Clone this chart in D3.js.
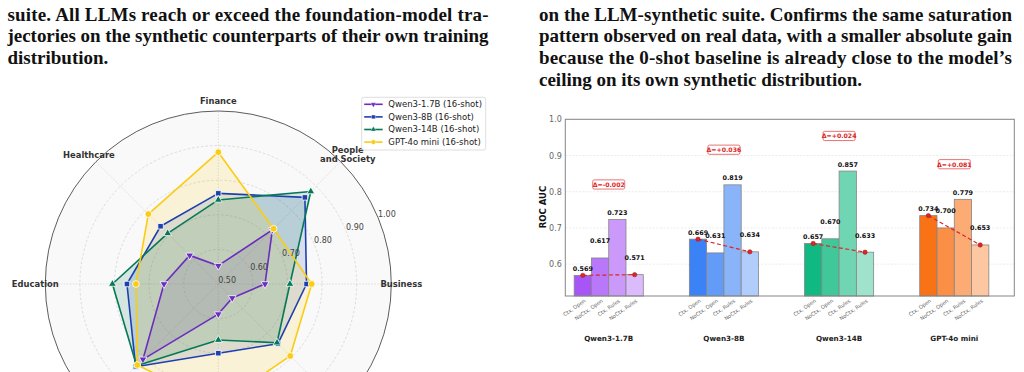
<!DOCTYPE html>
<html>
<head>
<meta charset="utf-8">
<script src="https://cdn.jsdelivr.net/npm/d3@7"></script>
<style>
  html, body { margin: 0; padding: 0; background: #fff; }
  svg { display: block; }
</style>
</head>
<body>
<svg id="fig" width="1024" height="372"></svg>
<script>
// ---- caption text ----
const leftCaption = [
  "suite. All LLMs reach or exceed the foundation-model tra-",
  "jectories on the synthetic counterparts of their own training",
  "distribution."
];
const rightCaption = [
  "on the LLM-synthetic suite. Confirms the same saturation",
  "pattern observed on real data, with a smaller absolute gain",
  "because the 0-shot baseline is already close to the model\u2019s",
  "ceiling on its own synthetic distribution."
];

// ---- radar data (clockwise from top; three lower labels fall below the crop) ----
const radarAxes = ["Finance", "People\nand Society", "Business", "", "", "", "Education", "Healthcare"];
const radarTicks = [0.5, 0.6, 0.7, 0.8, 0.9, 1.0];
const radarNames = ["Qwen3-1.7B (16-shot)", "Qwen3-8B (16-shot)", "Qwen3-14B (16-shot)", "GPT-4o mini (16-shot)"];
const qwen17Radar = [0.553, 0.721, 0.635, 0.557, 0.587, 0.808, 0.657, 0.617];
const qwen8Radar  = [0.762, 0.854, 0.755, 0.744, 0.700, 0.838, 0.764, 0.736];
const qwen14Radar = [0.743, 0.878, 0.707, 0.740, 0.662, 0.834, 0.806, 0.707];
const gptRadar    = [0.881, 0.726, 0.770, 0.794, 0.850, 0.831, 0.738, 0.786];

// ---- bar data ----
const barModels = ["Qwen3-1.7B", "Qwen3-8B", "Qwen3-14B", "GPT-4o mini"];
const barConditions = ["Ctx, Open", "NoCtx, Open", "Ctx, Rules", "NoCtx, Rules"];
const qwen17Bars = [0.569, 0.617, 0.723, 0.571];
const qwen8Bars  = [0.669, 0.631, 0.819, 0.634];
const qwen14Bars = [0.657, 0.670, 0.857, 0.633];
const gptBars    = [0.734, 0.700, 0.779, 0.653];
const deltaLabels = ["\u0394=-0.002", "\u0394=+0.036", "\u0394=+0.024", "\u0394=+0.081"];
const barTicks = [0.6, 0.7, 0.8, 0.9, 1.0];

const svg = d3.select("#fig");
svg.append("rect").attr("width", 1024).attr("height", 372).attr("fill", "#fff");

// ================= captions =================
function caption(lines, x0, width) {
  const g = svg.append("g")
    .attr("font-family", "'Liberation Serif', 'DejaVu Serif', serif")
    .attr("font-weight", "bold")
    .attr("font-size", 19)
    .attr("fill", "#111");
  lines.forEach((t, i) => {
    const txt = g.append("text")
      .attr("x", x0)
      .attr("y", 20.7 + i * 21.7)
      .text(t);
    if (i < lines.length - 1) {
      txt.attr("textLength", width).attr("lengthAdjust", "spacing");
    }
  });
}
caption(leftCaption, 7.5, 481);
caption(rightCaption, 539, 473);

// ================= radar =================
const cx = 218.3, cy = 284, R = 173;
const rScale = d3.scaleLinear().domain([0.5, 1.0]).range([0, R]);
const angle = i => i * Math.PI / 4;  // 0 = top, clockwise
const radar = svg.append("g").attr("transform", `translate(${cx},${cy})`);

radar.append("circle").attr("r", R).attr("fill", "#f9f9f9");

// rings
radar.selectAll("circle.ring")
  .data(radarTicks.slice(1, -1))
  .join("circle")
  .attr("class", "ring")
  .attr("r", d => rScale(d))
  .attr("fill", "none")
  .attr("stroke", "#cfcfcf")
  .attr("stroke-width", 0.7)
  .attr("stroke-dasharray", "2.5,2");

// spokes
radar.selectAll("line.spoke")
  .data(radarAxes)
  .join("line")
  .attr("class", "spoke")
  .attr("x1", 0).attr("y1", 0)
  .attr("x2", (d, i) => R * Math.sin(angle(i)))
  .attr("y2", (d, i) => -R * Math.cos(angle(i)))
  .attr("stroke", "#d0d0d0")
  .attr("stroke-width", 0.7)
  .attr("stroke-dasharray", "1.5,1.5");

const series = [
  { name: radarNames[0], values: qwen17Radar, color: "#6a2dbd", shape: "down" },
  { name: radarNames[1], values: qwen8Radar, color: "#1e40af", shape: "square" },
  { name: radarNames[2], values: qwen14Radar, color: "#047857", shape: "up" },
  { name: radarNames[3], values: gptRadar, color: "#facc15", shape: "circle" }
];

function markerPath(shape) {
  if (shape === "square") return d3.symbol(d3.symbolSquare, 30)();
  if (shape === "circle") return d3.symbol(d3.symbolCircle, 36)();
  return d3.symbol(d3.symbolTriangle, 27)();
}
function markerRot(shape) { return shape === "down" ? 180 : 0; }

const radialLine = d3.lineRadial()
  .angle((d, i) => angle(i))
  .radius(d => rScale(d))
  .curve(d3.curveLinearClosed);

series.forEach(s => {
  radar.append("path")
    .attr("d", radialLine(s.values))
    .attr("fill", s.color)
    .attr("fill-opacity", 0.15)
    .attr("stroke", "none");
});
series.forEach(s => {
  radar.append("path")
    .attr("d", radialLine(s.values))
    .attr("fill", "none")
    .attr("stroke", s.color)
    .attr("stroke-width", 1.6)
    .attr("stroke-linejoin", "round");
  radar.selectAll(null)
    .data(s.values)
    .join("path")
    .attr("d", markerPath(s.shape))
    .attr("transform", (d, i) => {
      const r = rScale(d);
      return `translate(${r * Math.sin(angle(i))},${-r * Math.cos(angle(i))}) rotate(${markerRot(s.shape)})`;
    })
    .attr("fill", s.color)
    .attr("stroke", "#fff")
    .attr("stroke-width", 0.8);
});

// outer spine
radar.append("circle").attr("r", R).attr("fill", "none").attr("stroke", "#333").attr("stroke-width", 0.8);

// radial tick labels
const labAng = 67.5 * Math.PI / 180;
radar.selectAll("text.rtick")
  .data(radarTicks)
  .join("text")
  .attr("class", "rtick")
  .attr("x", d => (rScale(d) + 9.5) * Math.sin(labAng))
  .attr("y", d => -(rScale(d) + 9.5) * Math.cos(labAng))
  .attr("text-anchor", "middle")
  .attr("dominant-baseline", "central")
  .attr("font-family", "'DejaVu Sans', sans-serif")
  .attr("font-size", 8)
  .attr("fill", "#444")
  .text(d => d.toFixed(2));

// category labels
radarAxes.forEach((name, i) => {
  if (!name) return;
  const r = 183;
  const lx = r * Math.sin(angle(i)), ly = -r * Math.cos(angle(i));
  const lines = name.split("\n");
  const t = radar.append("text")
    .attr("text-anchor", "middle")
    .attr("font-family", "'DejaVu Sans', sans-serif")
    .attr("font-weight", "bold")
    .attr("font-size", 8.4)
    .attr("fill", "#333");
  lines.forEach((ln, k) => {
    t.append("tspan")
      .attr("x", lx)
      .attr("y", ly + (k - (lines.length - 1) / 2) * 9.6)
      .attr("dominant-baseline", "central")
      .text(ln);
  });
});

// legend
const leg = svg.append("g").attr("transform", "translate(361.7,97.3)");
leg.append("rect")
  .attr("width", 124).attr("height", 52.7)
  .attr("rx", 2)
  .attr("fill", "#fff").attr("fill-opacity", 0.85)
  .attr("stroke", "#d6d6d6").attr("stroke-width", 0.8);
series.forEach((s, i) => {
  const ly = 7 + i * 12.6;
  leg.append("line")
    .attr("x1", 2.5).attr("x2", 21)
    .attr("y1", ly).attr("y2", ly)
    .attr("stroke", s.color).attr("stroke-width", 1.6);
  leg.append("path")
    .attr("d", markerPath(s.shape))
    .attr("transform", `translate(11.7,${ly}) rotate(${markerRot(s.shape)}) scale(0.7)`)
    .attr("fill", s.color).attr("stroke", "#fff").attr("stroke-width", 0.6);
  leg.append("text")
    .attr("x", 26.6).attr("y", ly)
    .attr("dominant-baseline", "central")
    .attr("font-family", "'DejaVu Sans', sans-serif")
    .attr("font-size", 8.5)
    .attr("fill", "#222")
    .text(s.name);
});

// ================= bar chart =================
const barGroups = [
  { model: barModels[0], values: qwen17Bars, base: "#a855f7", delta: deltaLabels[0] },
  { model: barModels[1], values: qwen8Bars, base: "#3b82f6", delta: deltaLabels[1] },
  { model: barModels[2], values: qwen14Bars, base: "#10b981", delta: deltaLabels[2] },
  { model: barModels[3], values: gptBars, base: "#f97316", delta: deltaLabels[3] }
];
const alphas = [1.0, 0.8, 0.6, 0.4];
const plotL = 565.3, plotR = 1014.3, plotT = 119.3, plotB = 296;
const xs = d3.scaleLinear().domain([-0.377, 3.521]).range([plotL, plotR]);
const ys = d3.scaleLinear().domain([0.512, 1.0]).range([plotB, plotT]);
const bw = 0.15;
const barX = (gi, j) => gi + (j - 1.5) * bw;

const bars = svg.append("g");

// grid
bars.selectAll("line.grid")
  .data(barTicks)
  .join("line")
  .attr("x1", plotL).attr("x2", plotR)
  .attr("y1", d => ys(d)).attr("y2", d => ys(d))
  .attr("stroke", "#e2e2e2").attr("stroke-width", 0.7)
  .attr("stroke-dasharray", "2,1.5");

function tint(hex, a) {
  const c = d3.rgb(hex);
  return d3.rgb(255 - (255 - c.r) * a, 255 - (255 - c.g) * a, 255 - (255 - c.b) * a).formatHex();
}

barGroups.forEach((g, gi) => {
  const w = xs(bw) - xs(0);
  bars.selectAll(null)
    .data(g.values)
    .join("rect")
    .attr("x", (d, j) => xs(barX(gi, j)) - w / 2)
    .attr("y", d => ys(d))
    .attr("width", w)
    .attr("height", d => plotB - ys(d))
    .attr("fill", (d, j) => tint(g.base, alphas[j]))
    .attr("stroke", "#858585")
    .attr("stroke-width", 0.8);

  // value labels (NoCtx labels sit higher)
  bars.selectAll(null)
    .data(g.values)
    .join("text")
    .attr("x", (d, j) => xs(barX(gi, j)))
    .attr("y", (d, j) => ys(d) - (j % 2 === 1 ? 16.5 : 6.5))
    .attr("text-anchor", "middle")
    .attr("dominant-baseline", "central")
    .attr("font-family", "'DejaVu Sans', sans-serif")
    .attr("font-weight", "bold")
    .attr("font-size", 6.4)
    .attr("fill", "#111")
    .text(d => d.toFixed(3));

  // dashed trend Ctx,Open -> NoCtx,Rules
  const pts = [[xs(barX(gi, 0)), ys(g.values[0])], [xs(barX(gi, 3)), ys(g.values[3])]];
  bars.append("line")
    .attr("x1", pts[0][0]).attr("y1", pts[0][1])
    .attr("x2", pts[1][0]).attr("y2", pts[1][1])
    .attr("stroke", "#dc2626").attr("stroke-width", 1.2)
    .attr("stroke-dasharray", "4,2.5");
  bars.selectAll(null)
    .data(pts)
    .join("circle")
    .attr("cx", d => d[0]).attr("cy", d => d[1])
    .attr("r", 2.2)
    .attr("fill", "#dc2626").attr("stroke", "#991b1b").attr("stroke-width", 0.5);

  // delta box
  const dyy = ys(d3.max(g.values) + 0.097);
  const bx = bars.append("g").attr("transform", `translate(${xs(gi)},${dyy})`);
  bx.append("rect")
    .attr("x", -16).attr("y", -4.6).attr("width", 32).attr("height", 9.2)
    .attr("rx", 1.5)
    .attr("fill", "#fff").attr("stroke", "#e05252").attr("stroke-width", 0.8);
  bx.append("text")
    .attr("text-anchor", "middle").attr("dominant-baseline", "central")
    .attr("font-family", "'DejaVu Sans', sans-serif")
    .attr("font-weight", "bold").attr("font-size", 6.2)
    .attr("fill", "#dc2626")
    .text(g.delta);

  // condition tick labels
  barConditions.forEach((c, j) => {
    const tx = xs(barX(gi, j)) + 2, ty = 300;
    bars.append("text")
      .attr("transform", `translate(${tx},${ty}) rotate(-35)`)
      .attr("text-anchor", "end")
      .attr("dominant-baseline", "central")
      .attr("font-family", "'DejaVu Sans', sans-serif")
      .attr("font-size", 5.2)
      .attr("fill", "#666")
      .text(c);
  });

  // model name
  bars.append("text")
    .attr("x", xs(gi)).attr("y", 338.3)
    .attr("text-anchor", "middle").attr("dominant-baseline", "central")
    .attr("font-family", "'DejaVu Sans', sans-serif")
    .attr("font-weight", "bold").attr("font-size", 7.2)
    .attr("fill", "#222")
    .text(g.model);
});

// y axis
const yAxis = bars.append("g")
  .attr("transform", `translate(${plotL},0)`)
  .call(d3.axisLeft(ys).tickValues(barTicks).tickFormat(d3.format(".1f")).tickSize(0).tickPadding(3.5));
yAxis.select(".domain").remove();
yAxis.selectAll("text")
  .attr("font-family", "'DejaVu Sans', sans-serif")
  .attr("font-size", 8)
  .attr("fill", "#666");

// frame
bars.append("rect")
  .attr("x", plotL).attr("y", plotT)
  .attr("width", plotR - plotL).attr("height", plotB - plotT)
  .attr("fill", "none").attr("stroke", "#858585").attr("stroke-width", 1);

bars.append("text")
  .attr("transform", `translate(543.3,207) rotate(-90)`)
  .attr("text-anchor", "middle").attr("dominant-baseline", "central")
  .attr("font-family", "'DejaVu Sans', sans-serif")
  .attr("font-weight", "bold").attr("font-size", 8.5)
  .attr("fill", "#111")
  .text("ROC AUC");
</script>
</body>
</html>
